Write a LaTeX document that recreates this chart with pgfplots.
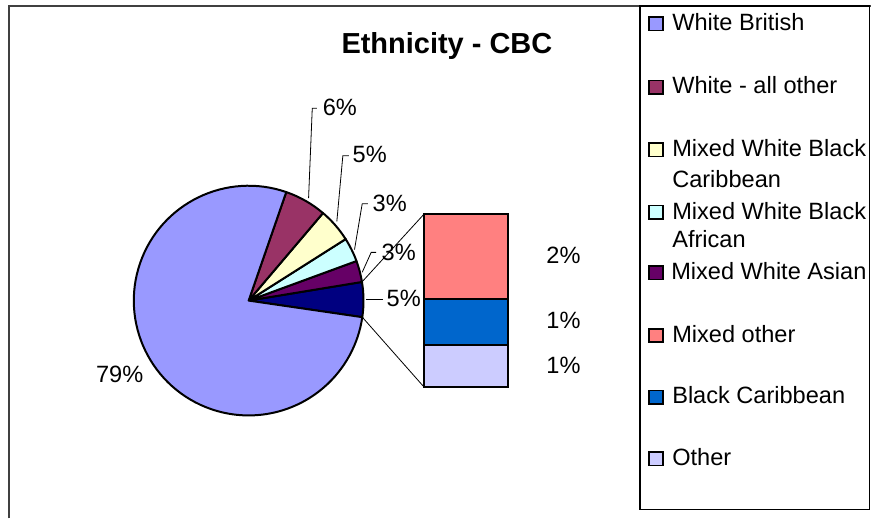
\documentclass[border=0pt]{standalone}
\usepackage{pgfplots}
\pgfplotsset{compat=1.18}
\usepackage{fontspec}
\setmainfont{Liberation Sans}
\definecolor{cWB}{HTML}{9999FF}
\definecolor{cWO}{HTML}{993366}
\definecolor{cMWBC}{HTML}{FFFFCC}
\definecolor{cMWBA}{HTML}{CCFFFF}
\definecolor{cMWA}{HTML}{660066}
\definecolor{cMO}{HTML}{FF8080}
\definecolor{cBC}{HTML}{0066CC}
\definecolor{cO}{HTML}{CCCCFF}
\definecolor{cComb}{HTML}{000080}
\definecolor{frame}{HTML}{404040}
\newcommand{\lf}{\fontsize{23.6}{28}\selectfont}
\begin{document}
\begin{tikzpicture}
% data (percent)
\pgfmathsetmacro{\vWB}{78.0}
\pgfmathsetmacro{\vWO}{5.9}
\pgfmathsetmacro{\vMWBC}{4.8}
\pgfmathsetmacro{\vMWBA}{3.4}
\pgfmathsetmacro{\vMWA}{3.0}
\pgfmathsetmacro{\vMO}{2.4}
\pgfmathsetmacro{\vBC}{1.3}
\pgfmathsetmacro{\vO}{1.2}
\pgfmathsetmacro{\vComb}{\vMO+\vBC+\vO}
% pie geometry
\pgfmathsetmacro{\cx}{249}
\pgfmathsetmacro{\cy}{301}
\pgfmathsetmacro{\R}{115}
\pgfmathsetmacro{\aA}{-8.3}
\pgfmathsetmacro{\aB}{\aA+3.6*\vComb}
\pgfmathsetmacro{\aC}{\aB+3.6*\vMWA}
\pgfmathsetmacro{\aD}{\aC+3.6*\vMWBA}
\pgfmathsetmacro{\aE}{\aD+3.6*\vMWBC}
\pgfmathsetmacro{\aF}{\aE+3.6*\vWO}
\pgfmathsetmacro{\aG}{\aF+3.6*\vWB}
\pgfmathsetmacro{\pAx}{\cx+\R*cos(\aA)}
\pgfmathsetmacro{\pAy}{\cy-\R*sin(\aA)}
\pgfmathsetmacro{\pBx}{\cx+\R*cos(\aB)}
\pgfmathsetmacro{\pBy}{\cy-\R*sin(\aB)}
\pgfmathsetmacro{\pCx}{\cx+\R*cos(\aC)}
\pgfmathsetmacro{\pCy}{\cy-\R*sin(\aC)}
\pgfmathsetmacro{\pDx}{\cx+\R*cos(\aD)}
\pgfmathsetmacro{\pDy}{\cy-\R*sin(\aD)}
\pgfmathsetmacro{\pEx}{\cx+\R*cos(\aE)}
\pgfmathsetmacro{\pEy}{\cy-\R*sin(\aE)}
\pgfmathsetmacro{\pFx}{\cx+\R*cos(\aF)}
\pgfmathsetmacro{\pFy}{\cy-\R*sin(\aF)}
% bar geometry
\pgfmathsetmacro{\bTop}{214}
\pgfmathsetmacro{\bBot}{388}
\pgfmathsetmacro{\bs}{(\bBot-\bTop)/\vComb}
\pgfmathsetmacro{\bY}{\bTop+\bs*\vMO}
\pgfmathsetmacro{\bZ}{\bY+\bs*\vBC}
\begin{axis}[hide axis, scale only axis, width=872pt, height=519pt,
  xmin=0, xmax=872, ymin=0, ymax=519, y dir=reverse, clip=false]
\path (axis cs:0,0) rectangle (axis cs:872,519);
% outer frame
\draw[frame, line width=2.4pt] (axis cs:9,519) -- (axis cs:9,6) -- (axis cs:872,6);
% title
\node[anchor=base, inner sep=0, font=\fontsize{29}{32}\selectfont\bfseries] at (axis cs:447.5,54) {Ethnicity - CBC};
% pie slices
\filldraw[fill=cComb, draw=black, line width=2pt, line join=round] (axis cs:\cx,\cy) -- (axis cs:\pAx,\pAy) arc[start angle=\aA, end angle=\aB, radius=\R pt] -- cycle;
\filldraw[fill=cMWA, draw=black, line width=2pt, line join=round] (axis cs:\cx,\cy) -- (axis cs:\pBx,\pBy) arc[start angle=\aB, end angle=\aC, radius=\R pt] -- cycle;
\filldraw[fill=cMWBA, draw=black, line width=2pt, line join=round] (axis cs:\cx,\cy) -- (axis cs:\pCx,\pCy) arc[start angle=\aC, end angle=\aD, radius=\R pt] -- cycle;
\filldraw[fill=cMWBC, draw=black, line width=2pt, line join=round] (axis cs:\cx,\cy) -- (axis cs:\pDx,\pDy) arc[start angle=\aD, end angle=\aE, radius=\R pt] -- cycle;
\filldraw[fill=cWO, draw=black, line width=2pt, line join=round] (axis cs:\cx,\cy) -- (axis cs:\pEx,\pEy) arc[start angle=\aE, end angle=\aF, radius=\R pt] -- cycle;
\filldraw[fill=cWB, draw=black, line width=2pt, line join=round] (axis cs:\cx,\cy) -- (axis cs:\pFx,\pFy) arc[start angle=\aF, end angle=\aG, radius=\R pt] -- cycle;
% bar of pie
\addplot[fill=cMO, draw=black, line width=2pt, mark=none, forget plot] coordinates {(425,\bTop) (509,\bTop) (509,\bY) (425,\bY)} -- cycle;
\addplot[fill=cBC, draw=black, line width=2pt, mark=none, forget plot] coordinates {(425,\bY) (509,\bY) (509,\bZ) (425,\bZ)} -- cycle;
\addplot[fill=cO, draw=black, line width=2pt, mark=none, forget plot] coordinates {(425,\bZ) (509,\bZ) (509,\bBot) (425,\bBot)} -- cycle;
% connector lines
\addplot[black, line width=0.8pt, mark=none, forget plot] coordinates {(\pBx,\pBy) (425,\bTop)};
\addplot[black, line width=0.8pt, mark=none, forget plot] coordinates {(\pAx,\pAy) (425,\bBot)};
% leader lines
\addplot[black, line width=0.8pt, mark=none, forget plot] coordinates {(317.3,108.3) (312.7,108.3) (309,198.3)};
\addplot[black, line width=0.8pt, mark=none, forget plot] coordinates {(349.3,156) (343.3,156) (337.3,221.7)};
\addplot[black, line width=0.8pt, mark=none, forget plot] coordinates {(368.3,204) (362.7,204) (355,250)};
\addplot[black, line width=0.8pt, mark=none, forget plot] coordinates {(376.7,252.7) (371.7,252.7) (362.7,272.7)};
\addplot[black, line width=0.8pt, mark=none, forget plot] coordinates {(366.7,300) (383.3,300)};
% data labels
\node[anchor=base west, inner sep=0, font=\lf] at (axis cs:96,383.5) {79\%};
\node[anchor=base west, inner sep=0, font=\lf] at (axis cs:323,115.5) {6\%};
\node[anchor=base west, inner sep=0, font=\lf] at (axis cs:353,162.5) {5\%};
\node[anchor=base west, inner sep=0, font=\lf] at (axis cs:373,211.5) {3\%};
\node[anchor=base west, inner sep=0, font=\lf] at (axis cs:382,260.5) {3\%};
\node[anchor=base west, inner sep=0, font=\lf] at (axis cs:387,306.5) {5\%};
\node[anchor=base west, inner sep=0, font=\lf] at (axis cs:547,263.5) {2\%};
\node[anchor=base west, inner sep=0, font=\lf] at (axis cs:547,328.5) {1\%};
\node[anchor=base west, inner sep=0, font=\lf] at (axis cs:547,374.5) {1\%};
% legend
\draw[black, line width=1.5pt] (axis cs:641,6) rectangle (axis cs:870.5,510);
\filldraw[fill=cWB, draw=black, line width=1.5pt] (axis cs:650,17.2) rectangle (axis cs:664,30.7);
\node[anchor=base west, inner sep=0, font=\lf] at (axis cs:673,30.7) {White British};
\filldraw[fill=cWO, draw=black, line width=1.5pt] (axis cs:650,80.5) rectangle (axis cs:664,94);
\node[anchor=base west, inner sep=0, font=\lf] at (axis cs:673,94) {White - all other};
\filldraw[fill=cMWBC, draw=black, line width=1.5pt] (axis cs:650,143.2) rectangle (axis cs:664,156.7);
\node[anchor=base west, inner sep=0, font=\lf] at (axis cs:673,156.7) {Mixed White Black};
\node[anchor=base west, inner sep=0, font=\lf] at (axis cs:673,187.3) {Caribbean};
\filldraw[fill=cMWBA, draw=black, line width=1.5pt] (axis cs:650,205.8) rectangle (axis cs:664,219.3);
\node[anchor=base west, inner sep=0, font=\lf] at (axis cs:673,219.3) {Mixed White Black};
\node[anchor=base west, inner sep=0, font=\lf] at (axis cs:673,248.3) {African};
\filldraw[fill=cMWA, draw=black, line width=1.5pt] (axis cs:650,266.5) rectangle (axis cs:664,280);
\node[anchor=base west, inner sep=0, font=\lf] at (axis cs:672,280) {Mixed White Asian};
\filldraw[fill=cMO, draw=black, line width=1.5pt] (axis cs:650,329.2) rectangle (axis cs:664,342.7);
\node[anchor=base west, inner sep=0, font=\lf] at (axis cs:673,342.7) {Mixed other};
\filldraw[fill=cBC, draw=black, line width=1.5pt] (axis cs:650,390.8) rectangle (axis cs:664,404.3);
\node[anchor=base west, inner sep=0, font=\lf] at (axis cs:673,404.3) {Black Caribbean};
\filldraw[fill=cO, draw=black, line width=1.5pt] (axis cs:650,452.5) rectangle (axis cs:664,466);
\node[anchor=base west, inner sep=0, font=\lf] at (axis cs:673,466) {Other};
\end{axis}
\end{tikzpicture}
\end{document}
